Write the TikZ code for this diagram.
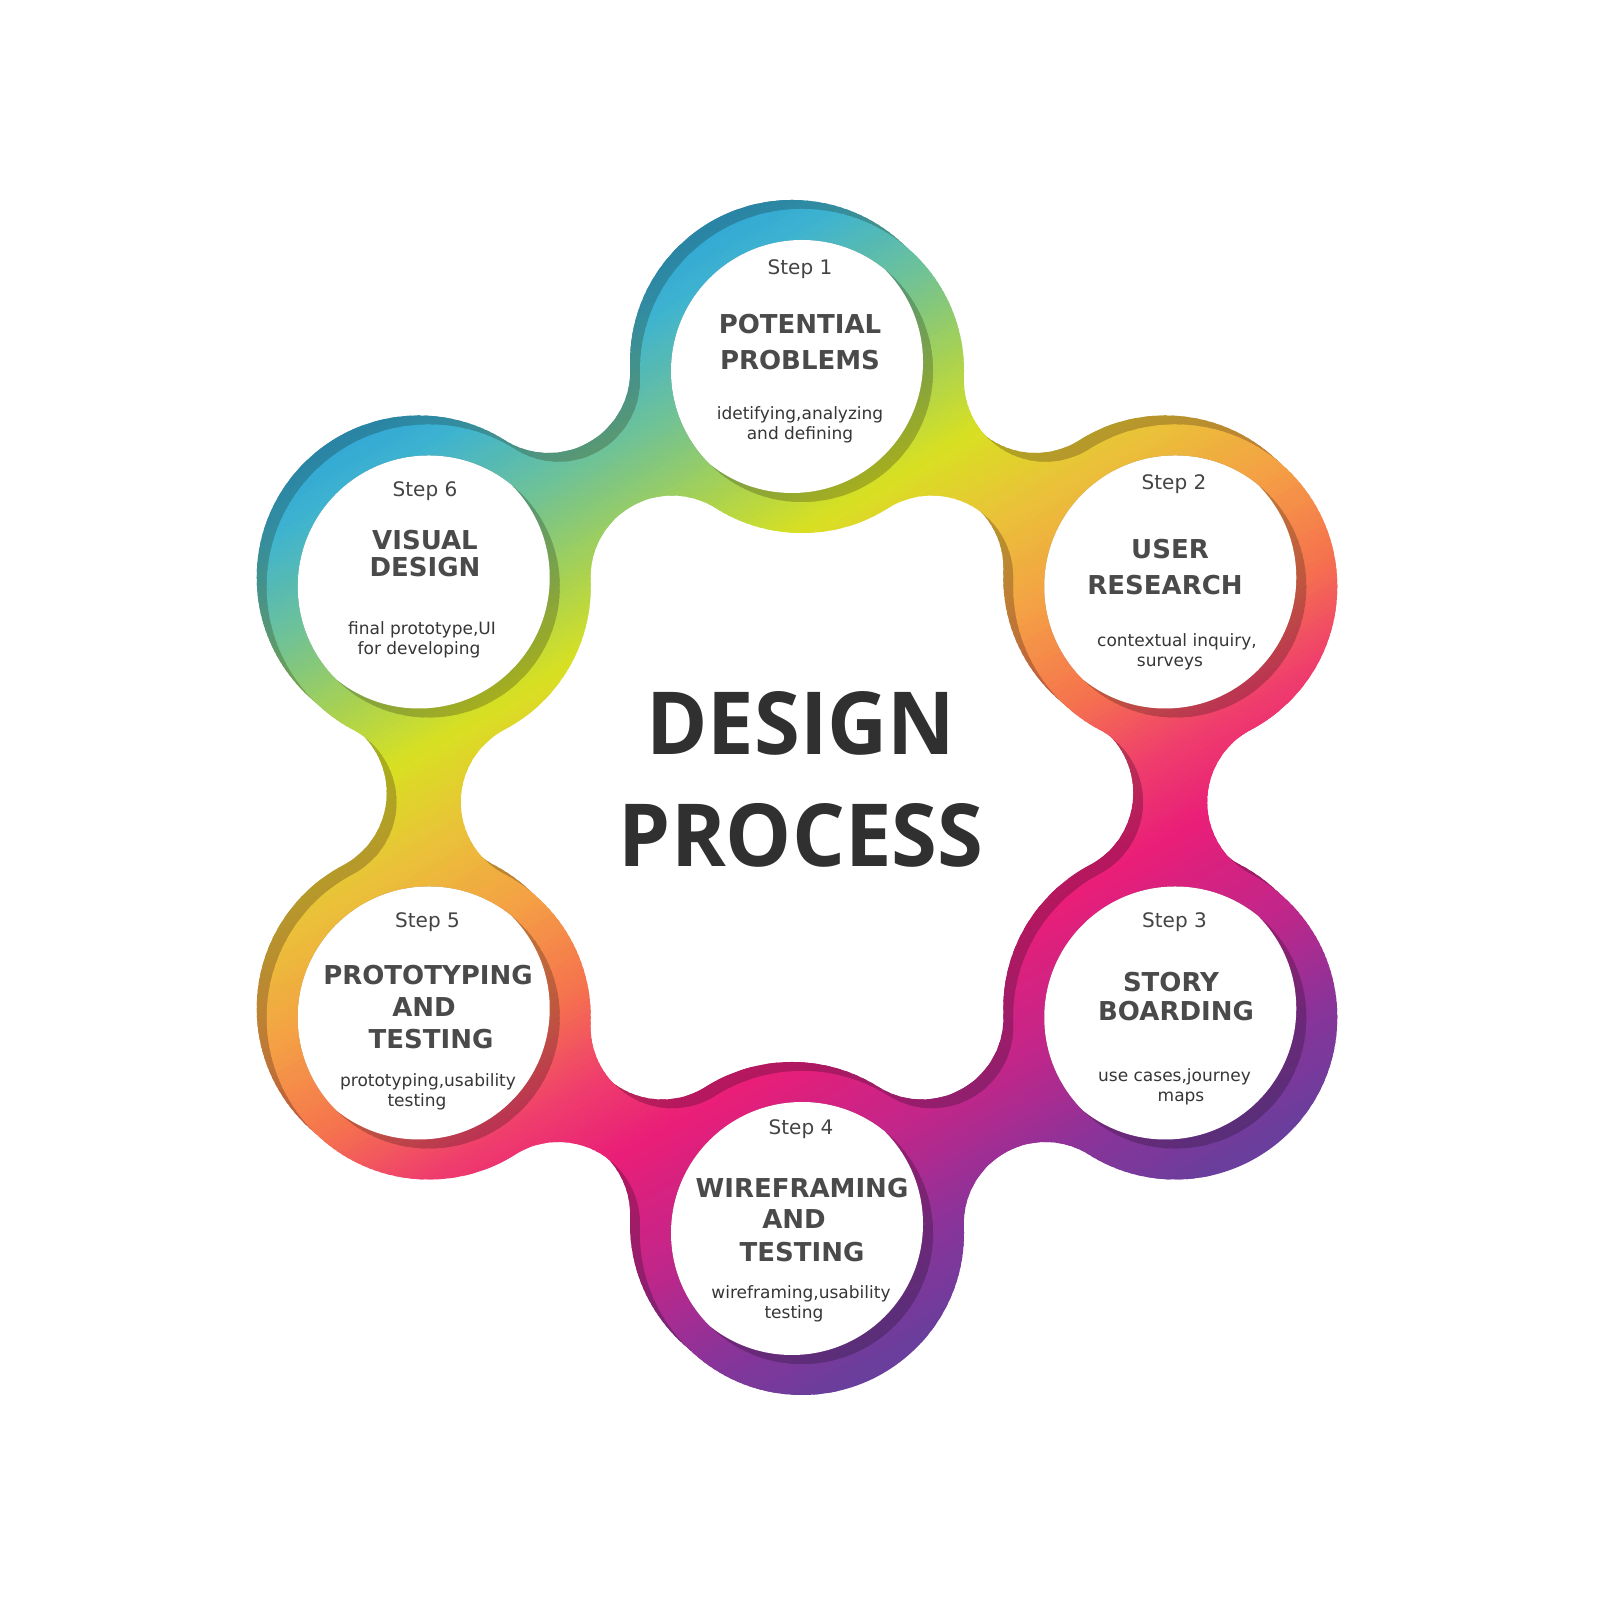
\documentclass[tikz,border=0pt]{standalone}
\usepackage{fontspec}
\setmainfont{DejaVu Sans}
\newfontfamily\titlefont{Open Sans}[FakeStretch=0.955]
\usetikzlibrary{calc}

\definecolor{g0}{HTML}{2A9FD8}
\definecolor{g1}{HTML}{3EB3D0}
\definecolor{g2}{HTML}{6CC19A}
\definecolor{g3}{HTML}{A5D155}
\definecolor{g4}{HTML}{D8E022}
\definecolor{g5}{HTML}{E9C437}
\definecolor{g6}{HTML}{F4A144}
\definecolor{g7}{HTML}{F5704F}
\definecolor{g8}{HTML}{EF3F6C}
\definecolor{g9}{HTML}{E91E78}
\definecolor{g10}{HTML}{C0268A}
\definecolor{g11}{HTML}{8B3399}
\definecolor{g12}{HTML}{6A3E9C}
\definecolor{txtA}{HTML}{444444}
\definecolor{txtB}{HTML}{4A4A4A}
\definecolor{txtD}{HTML}{363636}
\definecolor{txtM}{HTML}{303030}

\def\Ox{802}\def\Oy{798}\def\Lh{431}\def\Lm{373.25}\def\Rr{162}

% one stripe of the linear gradient between gradient positions #2 and #3
\newcommand\gstripe[3]{\fill[#1] ({0.5*#2-1126},{1600-0.866*#2-650}) -- ({0.5*#2+1126},{1600-0.866*#2+650}) -- ({0.5*#3+1126},{1600-0.866*#3+650}) -- ({0.5*#3-1126},{1600-0.866*#3-650}) -- cycle;}

\newcommand\gradlayer[1]{%
 \foreach \ca/\cb/\pa/\pb in {g0/g0/380/520, g0/g1/520/600, g1/g2/600/690, g2/g3/690/780, g3/g4/780/860, g4/g5/860/940, g5/g6/940/1040, g6/g7/1040/1150, g7/g8/1150/1230, g8/g9/1230/1310, g9/g10/1310/1430, g10/g11/1430/1530, g11/g12/1530/1620, g12/g12/1620/1800}{%
  \foreach \j in {0,...,15}{%
   \pgfmathsetmacro\pone{\pa+(\pb-\pa)*\j/16}%
   \pgfmathsetmacro\ptwo{\pa+(\pb-\pa)*(\j+1.6)/16}%
   \pgfmathtruncatemacro\pct{100*(\j+0.5)/16}%
   \gstripe{\cb!\pct!\ca!#1!black}{\pone}{\ptwo}%
  }}}

\newcommand\hexshape{%
 \foreach \ph in {90,30,-30,-90,-150,-210}{%
  ({\Ox+\Lh*cos(\ph)},{\Oy+\Lh*sin(\ph)}) circle[radius=\Rr]
  ({\Ox+\Lm*cos(\ph-30)-215.5*cos(\ph-120)},{\Oy+\Lm*sin(\ph-30)-215.5*sin(\ph-120)})
  -- ({\Ox+\Lm*cos(\ph-30)-72.2*cos(\ph-120)+75.55*sin(\ph-120)},{\Oy+\Lm*sin(\ph-30)-72.2*sin(\ph-120)-75.55*cos(\ph-120)})
  arc[start angle=\ph+32.2, end angle=\ph-92.2, radius=81.6]
  -- ({\Ox+\Lm*cos(\ph-30)+215.5*cos(\ph-120)},{\Oy+\Lm*sin(\ph-30)+215.5*sin(\ph-120)})
  -- ({\Ox+\Lm*cos(\ph-30)+72.2*cos(\ph-120)-75.55*sin(\ph-120)},{\Oy+\Lm*sin(\ph-30)+72.2*sin(\ph-120)+75.55*cos(\ph-120)})
  arc[start angle=\ph-147.8, end angle=\ph-272.2, radius=81.6]
  -- cycle
 }}

\newcommand\holeshape{%
 \foreach \ph in {90,30,-30,-90,-150,-210}{%
  ({\Ox+\Lh*cos(\ph)},{\Oy+\Lh*sin(\ph)}) circle[radius=131]
 }}

\tikzset{
 steplbl/.style={font=\fontsize{20}{24}\selectfont, text=txtA, anchor=base, inner sep=0pt},
 steptitle/.style={font=\fontsize{26}{30}\selectfont\bfseries, text=txtB, anchor=base, inner sep=0pt},
 stepdesc/.style={font=\fontsize{17}{20}\selectfont, text=txtD, anchor=base, inner sep=0pt},
 maintitle/.style={font=\titlefont\bfseries\fontsize{87}{100}\selectfont, text=txtM, anchor=base, inner sep=0pt}
}

\begin{document}
\begin{tikzpicture}[x=1pt,y=1pt]
\useasboundingbox (0,0) rectangle (1600,1600);
\fill[white] (0,0) rectangle (1600,1600);

% shadow copy of the ring
\begin{scope}[shift={(-10,9)}]
 \clip \hexshape;
 \gradlayer{78}
\end{scope}
% front ring
\begin{scope}
 \clip \hexshape;
 \gradlayer{100}
\end{scope}
% holes with inner shadow crescent
\begin{scope}
 \clip \holeshape;
 \gradlayer{78}
 \fill[white,shift={(-10,9)}] \holeshape;
\end{scope}

% centre title
\node[maintitle] (t1) at (801,845) {DESIGN};
\node[maintitle] (t2) at (801,733.3) {PROCESS};

% step 1
\node[steplbl] (s1l) at (800,1325) {Step 1};
\node[steptitle] (s1a) at (800,1266.7) {POTENTIAL};
\node[steptitle] (s1b) at (800,1230) {PROBLEMS};
\node[stepdesc] (s1c) at (800,1180.7) {idetifying,analyzing};
\node[stepdesc] (s1d) at (800,1160.7) {and defining};

% step 2
\node[steplbl] (s2l) at (1174,1110) {Step 2};
\node[steptitle] (s2a) at (1170,1041.7) {USER};
\node[steptitle] (s2b) at (1165,1005) {RESEARCH};
\node[stepdesc] (s2c) at (1177,953.3) {contextual inquiry,};
\node[stepdesc] (s2d) at (1170,933.3) {surveys};

% step 3
\node[steplbl] (s3l) at (1174.5,672.7) {Step 3};
\node[steptitle] (s3a) at (1171,608.3) {STORY};
\node[steptitle] (s3b) at (1176,579.3) {BOARDING};
\node[stepdesc] (s3c) at (1174.5,518.3) {use cases,journey};
\node[stepdesc] (s3d) at (1181,498.3) {maps};

% step 4
\node[steplbl] (s4l) at (801,465) {Step 4};
\node[steptitle] (s4a) at (802,402.7) {WIREFRAMING};
\node[steptitle] (s4b) at (794,371.7) {AND};
\node[steptitle] (s4c) at (802,338.3) {TESTING};
\node[stepdesc] (s4d) at (801,301.7) {wireframing,usability};
\node[stepdesc] (s4e) at (794,281.7) {testing};

% step 5
\node[steplbl] (s5l) at (427.5,672.3) {Step 5};
\node[steptitle] (s5a) at (428,615) {PROTOTYPING};
\node[steptitle] (s5b) at (424,583.3) {AND};
\node[steptitle] (s5c) at (431,551.7) {TESTING};
\node[stepdesc] (s5d) at (428,513.3) {prototyping,usability};
\node[stepdesc] (s5e) at (417,493.3) {testing};

% step 6
\node[steplbl] (s6l) at (425,1103.3) {Step 6};
\node[steptitle] (s6a) at (425,1050) {VISUAL};
\node[steptitle] (s6b) at (425,1023.3) {DESIGN};
\node[stepdesc] (s6c) at (422,965) {final prototype,UI};
\node[stepdesc] (s6d) at (419,945) {for developing};
\end{tikzpicture}
\end{document}
